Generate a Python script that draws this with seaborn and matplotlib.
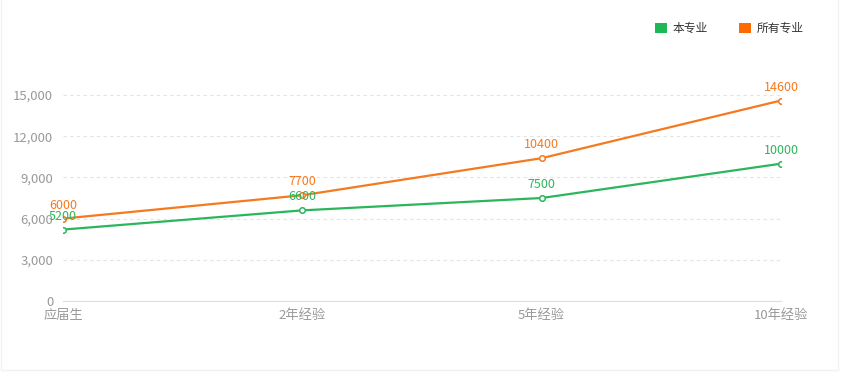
import matplotlib
matplotlib.use("Agg")
import matplotlib.pyplot as plt
import seaborn as sns
import pandas as pd
from matplotlib.patches import Patch, Rectangle
from matplotlib.ticker import FuncFormatter

categories = ["应届生", "2年经验", "5年经验", "10年经验"]
series_names = ["本专业", "所有专业"]
major_values = [5200, 6600, 7500, 10000]
all_values = [6000, 7700, 10400, 14600]
y_ticks = [0, 3000, 6000, 9000, 12000, 15000]

line_colors = {"本专业": "#2bb65c", "所有专业": "#f5791f"}
legend_colors = {"本专业": "#1bb855", "所有专业": "#ff6a00"}

sns.set_theme(style="white")
plt.rcParams['font.family'] = ['Noto Sans CJK SC', 'DejaVu Sans']

df = pd.DataFrame({
    "x": list(range(len(categories))) * 2,
    "value": major_values + all_values,
    "series": [series_names[0]] * len(categories) + [series_names[1]] * len(categories),
})

fig = plt.figure(figsize=(8.43, 3.79), dpi=100)
ax = fig.add_axes([0.0747, 0.2058, 0.8518, 0.5435])

sns.lineplot(data=df, x="x", y="value", hue="series", palette=line_colors,
             marker="o", markersize=4, markerfacecolor="white", markeredgewidth=1.1,
             linewidth=1.6, ax=ax, legend=False)
for line in ax.lines:
    line.set_markeredgecolor(line.get_color())

ax.set_xlim(0, len(categories) - 1)
ax.set_ylim(0, 15000)
ax.set_yticks(y_ticks)
ax.yaxis.set_major_formatter(FuncFormatter(lambda v, p: f"{int(v):,}"))
ax.set_xticks(range(len(categories)))
ax.set_xticklabels(categories)
ax.set_xlabel("")
ax.set_ylabel("")
ax.tick_params(axis="y", colors="#999999", labelsize=9.5, length=0, pad=7)
ax.tick_params(axis="x", colors="#999999", labelsize=9.5, length=3, color="#dddddd",
               width=0.8, direction="inout", pad=4)
for lbl in ax.get_xticklabels() + ax.get_yticklabels():
    lbl.set_color("#999999")

ax.grid(axis="y", linestyle=(0, (3, 3)), color="#e3e3e3", linewidth=0.8)
ax.set_axisbelow(True)
for side in ["top", "right", "left"]:
    ax.spines[side].set_visible(False)
ax.spines["bottom"].set_color("#dddddd")
ax.spines["bottom"].set_linewidth(0.8)

for i, v in enumerate(major_values):
    ax.annotate(str(v), (i, v), xytext=(0, 5), textcoords="offset points",
                ha="center", va="bottom", fontsize=9, color=line_colors["本专业"])
for i, v in enumerate(all_values):
    ax.annotate(str(v), (i, v), xytext=(0, 5), textcoords="offset points",
                ha="center", va="bottom", fontsize=9, color=line_colors["所有专业"])

handles = [Patch(facecolor=legend_colors[s], edgecolor="none", label=s) for s in series_names]
fig.legend(handles=handles, loc="upper right", bbox_to_anchor=(0.966, 0.97), ncol=2,
           frameon=False, fontsize=8.5, handlelength=1.0, handleheight=1.0,
           handletextpad=0.5, columnspacing=2.6, labelcolor="#333333")

fig.patches.append(Rectangle((0.001, 0.025), 0.993, 0.98, transform=fig.transFigure,
                             fill=False, edgecolor="#f2f2f2", linewidth=1.0))

fig.savefig("out.png", dpi=100, facecolor="white")
